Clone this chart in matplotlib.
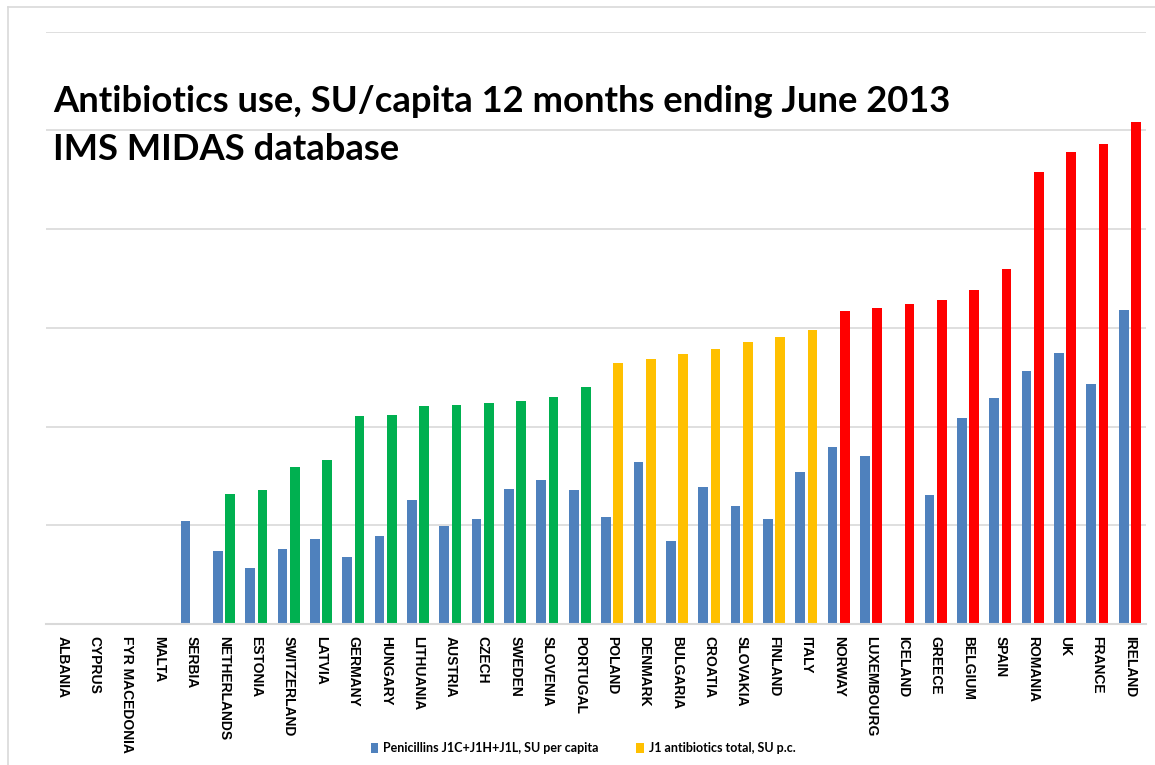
import numpy as np
import matplotlib
matplotlib.use("Agg")
import matplotlib.pyplot as plt
from matplotlib.patches import Patch
from matplotlib.lines import Line2D

countries = ["ALBANIA", "CYPRUS", "FYR MACEDONIA", "MALTA", "SERBIA", "NETHERLANDS",
             "ESTONIA", "SWITZERLAND", "LATVIA", "GERMANY", "HUNGARY", "LITHUANIA",
             "AUSTRIA", "CZECH", "SWEDEN", "SLOVENIA", "PORTUGAL", "POLAND", "DENMARK",
             "BULGARIA", "CROATIA", "SLOVAKIA", "FINLAND", "ITALY", "NORWAY",
             "LUXEMBOURG", "ICELAND", "GREECE", "BELGIUM", "SPAIN", "ROMANIA", "UK",
             "FRANCE", "IRELAND"]

penicillins = [np.nan, np.nan, np.nan, np.nan, 5.20, 3.70,
               2.84, 3.80, 4.29, 3.38, 4.46, 6.28,
               4.98, 5.32, 6.82, 7.31, 6.77, 5.42, 8.22,
               4.19, 6.92, 5.96, 5.32, 7.68, 8.96,
               8.49, np.nan, 6.55, 10.43, 11.44, 12.79, 13.71,
               12.14, 15.91]

j1_total = [np.nan, np.nan, np.nan, np.nan, np.nan, 6.60,
            6.77, 7.95, 8.32, 10.53, 10.58, 11.02,
            11.07, 11.17, 11.29, 11.51, 11.98, 13.22, 13.43,
            13.66, 13.92, 14.29, 14.52, 14.89, 15.85,
            16.02, 16.19, 16.39, 16.93, 17.96, 22.87, 23.88,
            24.30, 25.43]

tier = ["none"] * 5 + ["low"] * 12 + ["mid"] * 7 + ["high"] * 10

legend_labels = ["Penicillins J1C+J1H+J1L, SU per capita", "J1 antibiotics total, SU p.c."]
title_lines = ["Antibiotics use, SU/capita 12 months ending June 2013", "IMS MIDAS database"]

BLUE = "#4F81BD"
tier_colors = {"none": "#FFFFFF", "low": "#00B050", "mid": "#FFC000", "high": "#FF0000"}
GRID = "#D9D9D9"

W, H = 1155, 765
fig = plt.figure(figsize=(W / 100, H / 100), dpi=100)
ax = fig.add_axes([46 / W, (H - 624) / H, 1100 / W, 592.5 / H])

x = np.arange(len(countries))
bw = 0.30
off = 0.19
ax.bar(x - off, penicillins, width=bw, color=BLUE, zorder=3)
ax.bar(x + off, j1_total, width=bw, color=[tier_colors[t] for t in tier], zorder=3)

ax.set_xlim(-0.5, len(countries) - 0.5)
ax.set_ylim(0, 30)
ax.set_yticks(np.arange(0, 31, 5))
ax.set_yticklabels([])
ax.tick_params(axis="y", length=0)
ax.grid(axis="y", color=GRID, linewidth=1.2, zorder=0)
for s in ["top", "right", "left"]:
    ax.spines[s].set_visible(False)
ax.spines["bottom"].set_color(GRID)
ax.spines["bottom"].set_linewidth(1.5)
ax.spines["bottom"].set_zorder(4)

ax.set_xticks(x)
ax.set_xticklabels(countries, rotation=-90, fontsize=10, fontweight="bold",
                   family=["Liberation Sans", "DejaVu Sans"], va="top", ha="center")
ax.tick_params(axis="x", length=0, pad=8.5)

# Title lines
fig.text(53 / W, 1 - 112 / H, title_lines[0], fontsize=26.2, fontweight="bold",
         family=["Lato", "DejaVu Sans"], ha="left", va="baseline")
fig.text(53 / W, 1 - 160 / H, title_lines[1], fontsize=26.2, fontweight="bold",
         family=["Lato", "DejaVu Sans"], ha="left", va="baseline")

# Legend
handles = [Patch(facecolor=BLUE, edgecolor="none"),
           Patch(facecolor=tier_colors["mid"], edgecolor="none")]
fig.legend(handles, legend_labels, loc="center", bbox_to_anchor=(583 / W, 17 / H),
           ncol=2, frameon=False, handlelength=0.6, handleheight=0.9, handletextpad=0.4,
           columnspacing=3.0, prop={"family": ["Lato", "DejaVu Sans"], "weight": "bold", "size": 9})

# Frame lines
fig.add_artist(Line2D([8 / W, 8 / W], [0, 1 - 7 / H], color=GRID, linewidth=1.2, transform=fig.transFigure))
fig.add_artist(Line2D([8 / W, 1], [1 - 7 / H, 1 - 7 / H], color=GRID, linewidth=1.2, transform=fig.transFigure))

fig.savefig("out.png", dpi=100)
